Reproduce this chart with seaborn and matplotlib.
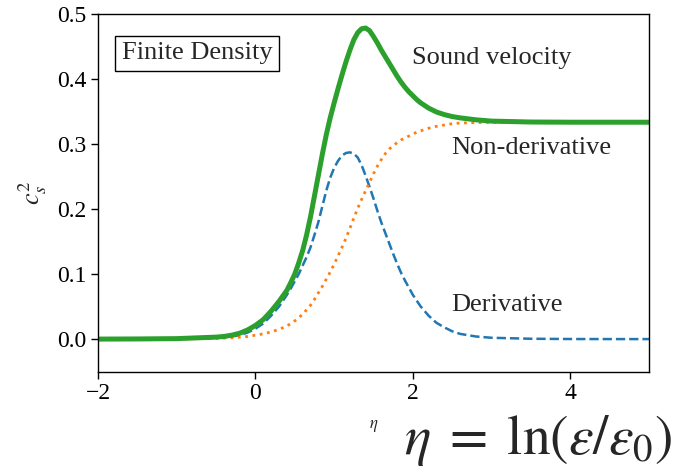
import matplotlib
matplotlib.use("Agg")
import matplotlib.pyplot as plt
import seaborn as sns
import pandas as pd

eta = [-2.0, -1.5, -1.0, -0.5, -0.4, -0.3, -0.2, -0.1, 0.0, 0.1, 0.2, 0.3,
       0.4, 0.45, 0.5, 0.55, 0.6, 0.65, 0.7, 0.75, 0.8, 0.85, 0.9, 0.95,
       1.0, 1.05, 1.1, 1.15, 1.2, 1.25, 1.3, 1.35, 1.4, 1.45, 1.5, 1.55,
       1.6, 1.65, 1.7, 1.75, 1.8, 1.85, 1.9, 1.95, 2.0, 2.05, 2.1, 2.15, 2.2,
       2.3, 2.4, 2.5, 2.6, 2.8, 3.0, 3.5, 4.0, 4.5, 5.0]

derivative = [0.0, 0.0001, 0.0004, 0.002, 0.003, 0.004, 0.006, 0.010, 0.016, 0.024, 0.036, 0.050,
              0.068, 0.078, 0.089, 0.100, 0.113, 0.126, 0.141, 0.160, 0.180, 0.204, 0.228, 0.248,
              0.263, 0.274, 0.282, 0.286, 0.287, 0.285, 0.279, 0.267, 0.251, 0.234, 0.216, 0.197,
              0.179, 0.163, 0.147, 0.131, 0.116, 0.102, 0.090, 0.079, 0.068, 0.059, 0.050, 0.043, 0.036,
              0.025, 0.018, 0.012, 0.008, 0.004, 0.002, 0.0005, 0.0001, 0.0, 0.0]

non_derivative = [0.0, 0.0001, 0.0003, 0.001, 0.0015, 0.002, 0.003, 0.004, 0.006, 0.008, 0.011, 0.015,
                  0.020, 0.024, 0.028, 0.033, 0.038, 0.045, 0.052, 0.061, 0.071, 0.081, 0.092, 0.103,
                  0.115, 0.128, 0.141, 0.155, 0.170, 0.186, 0.201, 0.215, 0.228, 0.241, 0.254, 0.266,
                  0.276, 0.285, 0.292, 0.297, 0.302, 0.306, 0.309, 0.312, 0.315, 0.318, 0.320, 0.322, 0.324,
                  0.327, 0.329, 0.331, 0.332, 0.3327, 0.333, 0.3333, 0.3333, 0.3333, 0.3333]

sound_velocity = [0.0, 0.0002, 0.0007, 0.003, 0.004, 0.006, 0.009, 0.014, 0.021, 0.030, 0.043, 0.058,
                  0.075, 0.087, 0.100, 0.117, 0.136, 0.160, 0.188, 0.220, 0.252, 0.284, 0.314, 0.340,
                  0.363, 0.385, 0.406, 0.426, 0.444, 0.460, 0.471, 0.477, 0.478, 0.474, 0.465, 0.455,
                  0.444, 0.434, 0.424, 0.414, 0.404, 0.395, 0.387, 0.380, 0.374, 0.368, 0.363, 0.359, 0.355,
                  0.349, 0.345, 0.342, 0.340, 0.337, 0.335, 0.3336, 0.3333, 0.3333, 0.3333]

df = pd.DataFrame({"eta": eta, "der": derivative, "nonder": non_derivative,
                   "cs2": sound_velocity})

sns.set_style("ticks")
plt.rcParams["font.family"] = ["Liberation Serif", "DejaVu Serif"]
plt.rcParams["mathtext.fontset"] = "stix"
plt.rcParams["axes.edgecolor"] = "black"
plt.rcParams["xtick.color"] = "black"
plt.rcParams["ytick.color"] = "black"

fig = plt.figure(figsize=(6.76, 4.74), dpi=100)
ax = fig.add_axes([0.145, 0.216, 0.815, 0.755])

sns.lineplot(data=df, x="eta", y="der", ax=ax, color="tab:blue",
             linestyle="--", linewidth=1.8)
sns.lineplot(data=df, x="eta", y="nonder", ax=ax, color="tab:orange",
             linestyle=":", linewidth=2.0)
sns.lineplot(data=df, x="eta", y="cs2", ax=ax, color="tab:green",
             linewidth=3.6)
for ln in ax.lines:
    ln.set_solid_joinstyle("round")
    ln.set_dash_joinstyle("round")

ax.set_xlim(-2, 5)
ax.set_ylim(-0.05, 0.5)
ax.set_xticks([-2, 0, 2, 4])
ax.set_yticks([0.0, 0.1, 0.2, 0.3, 0.4, 0.5])
ax.set_yticklabels(["0.0", "0.1", "0.2", "0.3", "0.4", "0.5"])
ax.tick_params(labelsize=17, direction="out", length=5, width=1)
for s in ax.spines.values():
    s.set_visible(True)
    s.set_linewidth(1.0)

ax.set_xlabel(r"$\eta$", fontsize=12, labelpad=10)
ax.set_ylabel(r"$c_s^2$", fontsize=19, labelpad=6)

ax.text(1.99, 0.432, "Sound velocity", fontsize=19, ha="left", va="center")
ax.text(2.49, 0.294, "Non-derivative", fontsize=19, ha="left", va="center")
ax.text(2.49, 0.052, "Derivative", fontsize=19, ha="left", va="center")
ax.text(0.18, 0.89, "Finite Density", fontsize=19, ha="center", va="center",
        transform=ax.transAxes,
        bbox=dict(boxstyle="square,pad=0.25", facecolor="white", edgecolor="black"))

fig.text(0.995, 0.07, r"$\eta\;=\;\ln(\varepsilon/\varepsilon_0)$", fontsize=40,
         ha="right", va="center")

fig.savefig("out.png", dpi=100)
